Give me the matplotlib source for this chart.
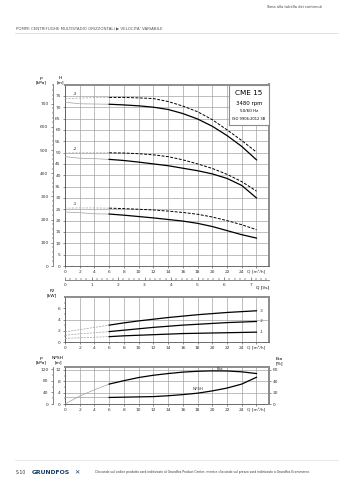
import numpy as np
import matplotlib
matplotlib.use("Agg")
import matplotlib.pyplot as plt
from matplotlib.ticker import MultipleLocator

plt.rcParams['font.family'] = ['DejaVu Sans']

# ---- data -------------------------------------------------------------
q = [0, 2, 4, 6, 8, 10, 12, 14, 16, 18, 20, 22, 24, 26]

h_max_3 = [73.8, 74.0, 74.2, 74.3, 74.3, 74.1, 73.8, 72.5, 70.5, 68.0, 64.5, 60.0, 55.3, 50.2]
h_3 = [72.2, 71.5, 71.4, 71.3, 71.0, 70.6, 70.0, 69.0, 67.2, 64.8, 61.6, 57.5, 52.7, 46.8]
h_max_2 = [49.8, 49.9, 49.9, 49.9, 49.8, 49.5, 49.0, 48.2, 46.8, 45.0, 43.0, 40.4, 37.2, 33.0]
h_2 = [48.2, 47.5, 47.3, 47.0, 46.5, 45.8, 45.0, 44.2, 43.1, 42.0, 40.6, 38.6, 35.5, 30.0]
h_max_1 = [25.5, 25.6, 25.6, 25.5, 25.3, 25.0, 24.7, 24.2, 23.6, 22.8, 21.6, 20.0, 18.2, 16.0]
h_1 = [23.8, 23.5, 23.0, 22.9, 22.4, 21.8, 21.2, 20.5, 19.8, 18.8, 17.4, 15.6, 13.8, 12.3]

p2_3 = [1.8, 2.2, 2.6, 3.0, 3.4, 3.75, 4.05, 4.35, 4.6, 4.85, 5.05, 5.25, 5.4, 5.55]
p2_2 = [1.2, 1.45, 1.65, 1.85, 2.1, 2.35, 2.6, 2.8, 3.0, 3.15, 3.3, 3.45, 3.55, 3.65]
p2_1 = [0.65, 0.75, 0.85, 0.95, 1.1, 1.2, 1.3, 1.4, 1.5, 1.55, 1.6, 1.65, 1.7, 1.75]

eta = [0, 14, 25, 35, 41, 46.5, 50.5, 53.5, 56, 57.5, 58.2, 58, 56.5, 53.5]
npsh = [2.3, 2.3, 2.3, 2.3, 2.4, 2.5, 2.6, 2.9, 3.3, 3.8, 4.6, 5.6, 7.0, 9.4]

stage_labels = ["-3", "-2", "-1"]
q_ticks = [0, 2, 4, 6, 8, 10, 12, 14, 16, 18, 20, 22, 24]
info_lines = ["CME 15", "3480 rpm", "50/60 Hz", "ISO 9906:2012 3B"]

Q_MAX = 27.7
Q_SPLIT = 6          # start of the recommended operating range
KPA_PER_M = 9.79

# ---- figure -----------------------------------------------------------
W, H = 339, 480
fig = plt.figure(figsize=(W / 100, H / 100), dpi=100)
fig.patch.set_facecolor("white")


def rect(l, t, r, b):
    return [l / W, 1 - b / H, (r - l) / W, (b - t) / H]


def fx(x):
    return x / W


def fy(y):
    return 1 - y / H


FS = 3.2
GRID = "#9a9a9a"
FRAME = "#8c8c8c"
LIGHT = "#a0a0a0"


def style_frame(ax):
    for s in ("top", "right"):
        ax.spines[s].set_color(FRAME)
        ax.spines[s].set_linewidth(1.4)
    for s in ("left", "bottom"):
        ax.spines[s].set_color("#555555")
        ax.spines[s].set_linewidth(0.6)
    ax.tick_params(labelsize=FS, length=1.5, width=0.4, pad=1.5, colors="#333333")
    ax.tick_params(which="minor", length=1.0, width=0.3)
    ax.set_xlim(0, Q_MAX)
    ax.set_xticks(q_ticks + [26])
    ax.set_xticklabels([str(t) for t in q_ticks] + ["Q [m³/h]"])
    ax.xaxis.set_minor_locator(MultipleLocator(1))
    for t in q_ticks + [26]:
        ax.axvline(t, color=GRID, lw=0.45, zorder=0)


def split_curve(ax, x, y, dashed=False, lw=0.9):
    """Thin grey outside the operating range, black inside it."""
    x = np.asarray(x, float)
    y = np.asarray(y, float)
    left = x <= Q_SPLIT
    right = x >= Q_SPLIT
    ls_l = (0, (3, 2)) if dashed else "-"
    ls_r = (0, (3, 1.5)) if dashed else "-"
    ax.plot(x[left], y[left], color=LIGHT, lw=0.5, ls=ls_l, zorder=3)
    ax.plot(x[right], y[right], color="black", lw=lw, ls=ls_r, zorder=4)


# ---- main Q-H chart ---------------------------------------------------
ax = fig.add_axes(rect(65, 84.5, 269, 266))
style_frame(ax)
ax.set_ylim(0, 80)
ax.set_yticks(np.arange(0, 80, 5))
for t in np.arange(5, 80, 5):
    ax.axhline(t, color=GRID, lw=0.45, zorder=0)

for hm, hs, lab in zip([h_max_3, h_max_2, h_max_1], [h_3, h_2, h_1], stage_labels):
    split_curve(ax, q, hm, dashed=True, lw=0.7)
    split_curve(ax, q, hs, dashed=False, lw=0.9)
    ax.text(1.0, hm[0] + 1.0, lab, fontsize=FS, ha="left", va="bottom", color="#333333")

# kPa outer scale
axp = ax.twinx()
axp.set_ylim(0, 80 * KPA_PER_M)
for s in ("top", "right", "bottom"):
    axp.spines[s].set_visible(False)
axp.spines["left"].set_position(("outward", 8.6))
axp.spines["left"].set_color("#555555")
axp.spines["left"].set_linewidth(0.5)
axp.yaxis.set_ticks_position("left")
axp.set_yticks(np.arange(0, 701, 100))
axp.yaxis.set_minor_locator(MultipleLocator(20))
axp.tick_params(labelsize=FS, length=1.8, width=0.4, pad=1.5, colors="#333333")
axp.tick_params(which="minor", length=1.0, width=0.3)

fig.text(fx(41), fy(80), "p\n[kPa]", fontsize=FS, ha="center", va="center", linespacing=1.0)
fig.text(fx(60), fy(80), "H\n[m]", fontsize=FS, ha="center", va="center", linespacing=1.0)

# info box
bx = fig.add_axes(rect(228.5, 85, 269, 125))
bx.set_xticks([])
bx.set_yticks([])
bx.set_facecolor("white")
for s in bx.spines.values():
    s.set_color(FRAME)
    s.set_linewidth(0.8)
bx.text(0.5, 0.8, info_lines[0], fontsize=5.2, ha="center", va="center", transform=bx.transAxes)
bx.text(0.5, 0.54, info_lines[1], fontsize=3.9, ha="center", va="center", transform=bx.transAxes)
bx.text(0.5, 0.34, info_lines[2], fontsize=3.0, ha="center", va="center", transform=bx.transAxes)
bx.text(0.5, 0.16, info_lines[3], fontsize=2.6, ha="center", va="center", transform=bx.transAxes)

# ---- l/s scale -----------------------------------------------------------
al = fig.add_axes(rect(65, 278, 269, 280))
al.set_xlim(0, Q_MAX / 3.6)
al.set_ylim(0, 1)
for s in ("top", "right", "left"):
    al.spines[s].set_visible(False)
al.spines["bottom"].set_color("#555555")
al.spines["bottom"].set_linewidth(0.5)
al.set_yticks([])
al.set_xticks(range(0, 8))
al.xaxis.set_minor_locator(MultipleLocator(0.2))
al.tick_params(axis="x", direction="in", labelsize=FS, length=2.0, width=0.4, pad=2.5, colors="#333333")
al.tick_params(axis="x", which="minor", direction="in", length=1.2, width=0.3)
al.patch.set_alpha(0)
fig.text(fx(263), fy(287.5), "Q [l/s]", fontsize=FS, ha="center", va="center")

# ---- P2 chart -----------------------------------------------------------
a2 = fig.add_axes(rect(65, 297, 269, 342))
style_frame(a2)
a2.set_ylim(0, 8)
a2.set_yticks([0, 2, 4, 6])
a2.yaxis.set_minor_locator(MultipleLocator(1))
a2.axhline(4, color=GRID, lw=0.45, zorder=0)
for p, lab in zip([p2_3, p2_2, p2_1], stage_labels):
    x = np.asarray(q, float)
    y = np.asarray(p, float)
    a2.plot(x[x <= Q_SPLIT], y[x <= Q_SPLIT], color=LIGHT, lw=0.5, ls=(0, (3, 1.5)), zorder=3)
    a2.plot(x[x >= Q_SPLIT], y[x >= Q_SPLIT], color="black", lw=0.9, zorder=4)
    a2.text(26.5, p[-1], lab, fontsize=FS - 0.4, ha="left", va="center", color="#333333")
fig.text(fx(52), fy(293), "P2\n[kW]", fontsize=FS, ha="center", va="center", linespacing=1.0)

# ---- NPSH / Eta chart ------------------------------------------------------
a3 = fig.add_axes(rect(65, 367, 269, 404))
style_frame(a3)
a3.set_ylim(0, 13)
a3.set_yticks([0, 4, 8, 12])
a3.yaxis.set_minor_locator(MultipleLocator(2))
for t in (4, 8, 12):
    a3.axhline(t, color=GRID, lw=0.45, zorder=0)
split_curve(a3, q, npsh, dashed=False, lw=0.9)
a3.text(18.0, 4.6, "NPSH", fontsize=FS - 0.3, ha="center", va="bottom", color="#333333")

ae = a3.twinx()
ae.set_ylim(0, 65)
for s in ("top", "left", "bottom"):
    ae.spines[s].set_visible(False)
ae.spines["right"].set_color(FRAME)
ae.spines["right"].set_linewidth(1.4)
ae.set_yticks([0, 20, 40, 60])
ae.yaxis.set_minor_locator(MultipleLocator(10))
ae.tick_params(labelsize=FS, length=1.5, width=0.4, pad=1.5, colors="#333333")
ae.tick_params(which="minor", length=1.0, width=0.3)
split_curve(ae, q, eta, dashed=False, lw=0.9)
ae.text(21.0, 58.6, "Eta", fontsize=FS - 0.3, ha="center", va="bottom", color="#333333")

ak = a3.twinx()
ak.set_ylim(0, 13 * KPA_PER_M)
for s in ("top", "right", "bottom"):
    ak.spines[s].set_visible(False)
ak.spines["left"].set_position(("outward", 8.6))
ak.spines["left"].set_color("#555555")
ak.spines["left"].set_linewidth(0.5)
ak.yaxis.set_ticks_position("left")
ak.set_yticks([0, 40, 80, 120])
ak.yaxis.set_minor_locator(MultipleLocator(20))
ak.tick_params(labelsize=FS, length=1.8, width=0.4, pad=1.5, colors="#333333")
ak.tick_params(which="minor", length=1.0, width=0.3)

fig.text(fx(41), fy(360), "p\n[kPa]", fontsize=FS, ha="center", va="center", linespacing=1.0)
fig.text(fx(58), fy(360), "NPSH\n[m]", fontsize=FS, ha="center", va="center", linespacing=1.0)
fig.text(fx(279), fy(361), "Eta\n[%]", fontsize=FS, ha="center", va="center", linespacing=1.0)

# ---- page header / footer ------------------------------------------------
fig.text(fx(294), fy(6.5), "Torna alla tabella dei contenuti", fontsize=2.6,
         ha="center", va="center", color="#444444")
fig.text(fx(16), fy(29), "POMPE CENTRIFUGHE MULTISTADIO ORIZZONTALI ▶ VELOCITA' VARIABILE",
         fontsize=2.9, ha="left", va="center", color="#555555")
fig.add_artist(plt.Line2D([fx(15), fx(338)], [fy(32.5), fy(32.5)], color="#d8d8d8", lw=0.5))

fig.add_artist(plt.Line2D([fx(15), fx(338)], [fy(460), fy(460)], color="#e0e0e0", lw=0.5))
fig.text(fx(16), fy(473), "S.10", fontsize=3.3, ha="left", va="center", color="#333333")
fig.text(fx(32), fy(473), "GRUNDFOS", fontsize=4.4, fontweight="bold", ha="left",
         va="center", color="#1b3f66")
fig.text(fx(74), fy(472.5), "✕", fontsize=4.6, fontweight="bold", ha="left",
         va="center", color="#1b3f66")
fig.text(fx(95), fy(472), "Cliccando sul codice prodotto sarà indirizzato al Grundfos Product Center, "
         "mentre cliccando sul prezzo sarà indirizzato a Grundfos Ecommerce.",
         fontsize=2.2, ha="left", va="center", color="#333333")

fig.savefig("out.png", dpi=100, facecolor="white")
